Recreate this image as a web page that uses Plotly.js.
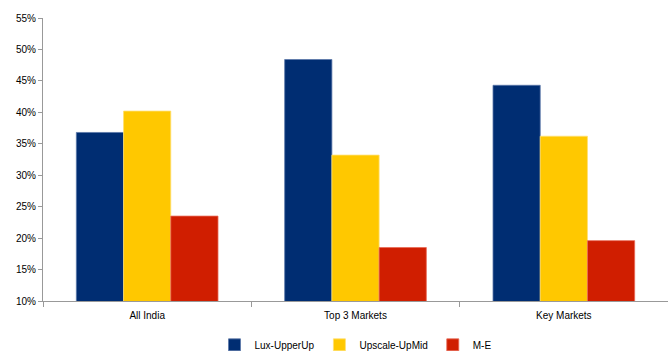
<!DOCTYPE html>
<html>
<head>
<meta charset="utf-8">
<script src="https://cdn.plot.ly/plotly-3.0.1.min.js"></script>
<style>
html,body{margin:0;padding:0;background:#fff;}
#chart{width:668px;height:351px;}
</style>
</head>
<body>
<div id="chart"></div>
<script>
var categories = ["All India", "Top 3 Markets", "Key Markets"];
var seriesNames = ["Lux-UpperUp", "Upscale-UpMid", "M-E"];
var luxUpperUp = [36.8, 48.4, 44.3];
var upscaleUpMid = [40.2, 33.2, 36.2];
var mE = [23.5, 18.5, 19.6];
var yTickVals = [10, 15, 20, 25, 30, 35, 40, 45, 50, 55];
var yTickText = ["10%", "15%", "20%", "25%", "30%", "35%", "40%", "45%", "50%", "55%"];

var colors = ["#002D72", "#FFC800", "#D01E00"];
var borders = ["#5a77a8", "#ffe070", "#e86a55"];
var values = [luxUpperUp, upscaleUpMid, mE];

var traces = values.map(function(v, i){
  return {
    type: "bar",
    name: seriesNames[i],
    x: categories,
    y: v,
    marker: {color: colors[i], line: {color: borders[i], width: 0.8}},
    hoverinfo: "skip"
  };
});

var layout = {
  width: 668,
  height: 351,
  margin: {l: 43, r: 0, t: 18, b: 50, autoexpand: false},
  paper_bgcolor: "#ffffff",
  plot_bgcolor: "#ffffff",
  font: {family: "Liberation Sans, Arial, sans-serif", size: 10, color: "#000000"},
  barmode: "group",
  bargap: 0.32,
  bargroupgap: 0,
  showlegend: true,
  legend: {
    orientation: "h",
    x: 0.5,
    xanchor: "center",
    y: -0.155,
    yanchor: "middle",
    font: {size: 10, color: "#000000"},
    itemwidth: 30,
    traceorder: "normal"
  },
  xaxis: {
    type: "category",
    showline: true,
    linecolor: "#999999",
    linewidth: 1,
    ticks: "outside",
    tickson: "boundaries",
    ticklen: 5,
    tickcolor: "#999999",
    ticklabelstandoff: 5,
    showgrid: false,
    zeroline: false,
    tickfont: {size: 10, color: "#000000"},
    fixedrange: true
  },
  yaxis: {
    range: [10, 55],
    tickmode: "array",
    tickvals: yTickVals,
    ticktext: yTickText,
    showline: true,
    linecolor: "#999999",
    linewidth: 1,
    ticks: "outside",
    ticklen: 4,
    tickcolor: "#999999",
    showgrid: false,
    zeroline: false,
    tickfont: {size: 10, color: "#000000"},
    fixedrange: true
  }
};

Plotly.newPlot("chart", traces, layout, {displayModeBar: false, staticPlot: true});
</script>
</body>
</html>
